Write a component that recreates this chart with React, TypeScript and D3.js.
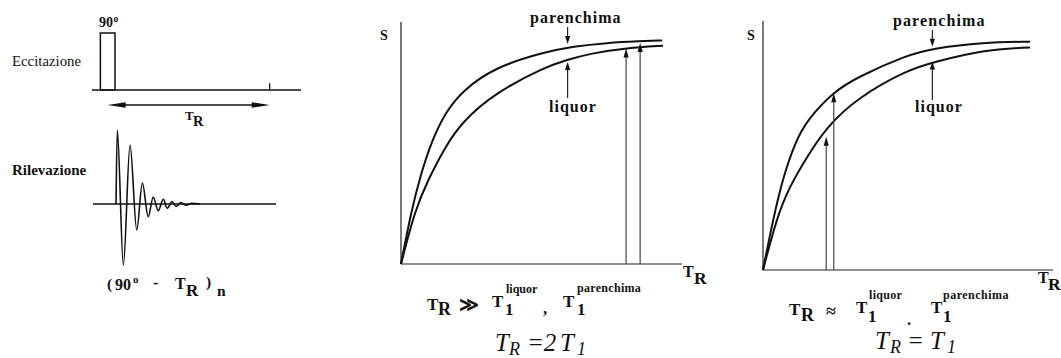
import React from "react";
import * as d3 from "d3";

const W = 1061;
const H = 358;
const SERIF = "'Liberation Serif', 'Times New Roman', 'DejaVu Serif', serif";

// ---- Pulse sequence (left) ----
const seqDomain = [0, 100];
const pulse90 = [4, 11]; // start, end of the 90° pulse
const trSpan = [7.5, 85]; // repetition time: pulse centre to next pulse
const nextPulse = 85;

// FID extrema read along the detection axis: time, amplitude
const fidTime = [11.5, 12.1, 15.0, 18.2, 21.4, 24.1, 26.9, 29.3, 31.7, 34.1, 36.0, 38.3, 40.2, 42.6, 45.0, 47.8, 51.7];
const fidAmp = [0, 74, -61, 59, -26, 21, -12.7, 7, -6.7, 4.7, -4.3, 2.5, -2.5, 1.5, -1.2, 0.6, 0];

// ---- Recovery curves, TR >> T1 (middle) ----
const midParTime = [0, 3.5, 7.0, 11.0, 15.66, 21.71, 33.45, 51.25, 61.21, 73.31, 85.05, 92.88];
const midParSignal = [0, 21.0, 37.0, 51.0, 62.4, 71.5, 81.4, 87.6, 89.9, 91.4, 92.1, 92.4];
const midLiqTime = [0, 4.98, 9.61, 15.66, 21.71, 33.45, 51.25, 59.07, 67.26, 80.43, 93.24];
const midLiqSignal = [0, 22.3, 34.7, 48.3, 58.7, 70.7, 81.4, 84.3, 87.0, 89.3, 90.2];
const midReadTime = [80.1, 85.1];
const midReadSignal = [89.0, 91.3];
const midPointerTime = 59.3;
const midParPointer = [97.9, 90.9];
const midLiqPointer = [68.6, 83.5];

// ---- Recovery curves, TR ≈ T1 (right) ----
const rightParTime = [0, 3.5, 7.0, 11.0, 15.17, 24.38, 32.41, 49.66, 58.72, 75.86, 92.07];
const rightParSignal = [0, 20.5, 37.5, 51.0, 60.2, 71.6, 77.4, 86.3, 89.0, 91.4, 91.7];
const rightLiqTime = [0, 4.83, 9.17, 15.17, 22.07, 32.41, 49.66, 58.72, 75.86, 92.07];
const rightLiqSignal = [0, 21.4, 33.5, 45.5, 57.6, 69.0, 80.3, 83.4, 88.4, 89.4];
const rightReadTime = [21.8, 24.4];
const rightReadSignal = [53.5, 71.0];
const rightPointerTime = 58.4;
const rightParPointer = [96.4, 89.7];
const rightLiqPointer = [68.3, 83.7];

const INK = "#111";

type Dir = "up" | "down" | "left" | "right";
function Head({ x, y, dir, len = 8, half = 2.6 }: { x: number; y: number; dir: Dir; len?: number; half?: number }) {
  let pts: [number, number][] = [];
  if (dir === "up") pts = [[x, y], [x - half, y + len], [x + half, y + len]];
  if (dir === "down") pts = [[x, y], [x - half, y - len], [x + half, y - len]];
  if (dir === "left") pts = [[x, y], [x + len, y - half], [x + len, y + half]];
  if (dir === "right") pts = [[x, y], [x - len, y - half], [x - len, y + half]];
  return <polygon points={pts.map((p) => p.join(",")).join(" ")} fill={INK} />;
}

function Txt({
  x, y, size, bold = true, italic = false, anchor = "start", spacing = 0, family = SERIF, children,
}: {
  x: number; y: number; size: number; bold?: boolean; italic?: boolean; anchor?: string; spacing?: number; family?: string; children: React.ReactNode;
}) {
  return (
    <text
      x={x}
      y={y}
      textAnchor={anchor as any}
      fill={INK}
      style={{
        fontFamily: family,
        fontSize: size,
        fontWeight: bold ? 700 : 400,
        fontStyle: italic ? "italic" : "normal",
        letterSpacing: spacing,
      }}
    >
      {children}
    </text>
  );
}

function RecoveryPanel({
  x0, x1, y0, y1, parT, parS, liqT, liqS, readT, readS, pointerT, parPtr, liqPtr,
}: {
  x0: number; x1: number; y0: number; y1: number;
  parT: number[]; parS: number[]; liqT: number[]; liqS: number[];
  readT: number[]; readS: number[]; pointerT: number; parPtr: number[]; liqPtr: number[];
}) {
  const x = d3.scaleLinear().domain([0, 100]).range([x0, x1]);
  const y = d3.scaleLinear().domain([0, 100]).range([y0, y1]);
  const line = d3
    .line<[number, number]>()
    .x((d) => x(d[0]))
    .y((d) => y(d[1]))
    .curve(d3.curveBasis);
  const par = parT.map((t, i) => [t, parS[i]] as [number, number]);
  const liq = liqT.map((t, i) => [t, liqS[i]] as [number, number]);
  return (
    <g>
      {/* axes */}
      <line x1={x(0)} x2={x(0)} y1={y(0)} y2={y(100)} stroke="#222" strokeWidth={1.2} />
      <line x1={x(0)} x2={x(100)} y1={y(0)} y2={y(0)} stroke="#222" strokeWidth={1.2} />
      {/* T1 recovery curves */}
      <path d={line(par) || ""} fill="none" stroke={INK} strokeWidth={2} />
      <path d={line(liq) || ""} fill="none" stroke={INK} strokeWidth={2} />
      {/* readout arrows from the time axis */}
      {readT.map((t, i) => (
        <g key={i}>
          <line x1={x(t)} x2={x(t)} y1={y(0)} y2={y(readS[i]) + 6} stroke="#444" strokeWidth={1.2} />
          <Head x={x(t)} y={y(readS[i])} dir="up" len={9} />
        </g>
      ))}
      {/* label pointers */}
      <line x1={x(pointerT)} x2={x(pointerT)} y1={y(parPtr[0])} y2={y(parPtr[1]) - 6} stroke={INK} strokeWidth={1.1} />
      <Head x={x(pointerT)} y={y(parPtr[1])} dir="down" />
      <line x1={x(pointerT)} x2={x(pointerT)} y1={y(liqPtr[0])} y2={y(liqPtr[1]) + 6} stroke={INK} strokeWidth={1.1} />
      <Head x={x(pointerT)} y={y(liqPtr[1])} dir="up" />
    </g>
  );
}

export default function App() {
  // left: pulse sequence scales
  const tx = d3.scaleLinear().domain(seqDomain).range([92, 301]);
  const pulseY = d3.scaleLinear().domain([0, 1]).range([90, 33]);
  const fidY = d3.scaleLinear().domain([-80, 80]).range([284, 124]);
  const fidLine = d3
    .line<[number, number]>()
    .x((d) => tx(d[0]))
    .y((d) => fidY(d[1]))
    .curve(d3.curveMonotoneX);
  const fid = fidTime.map((t, i) => [t, fidAmp[i]] as [number, number]);

  return (
    <svg
      width={W}
      height={H}
      viewBox={`0 0 ${W} ${H}`}
      style={{ position: "absolute", left: 0, top: 0, display: "block", background: "#fff" }}
    >
      <rect width={W} height={H} fill="#fff" />

      {/* ===== Pulse sequence ===== */}
      <Txt x={12} y={66} size={14.8} bold={false}>Eccitazione</Txt>
      <line x1={tx(0)} x2={tx(100)} y1={pulseY(0)} y2={pulseY(0)} stroke={INK} strokeWidth={1.5} />
      <rect
        x={tx(pulse90[0])}
        y={pulseY(1)}
        width={tx(pulse90[1]) - tx(pulse90[0])}
        height={pulseY(0) - pulseY(1)}
        fill="none"
        stroke={INK}
        strokeWidth={1.5}
      />
      <line x1={tx(nextPulse)} x2={tx(nextPulse)} y1={pulseY(0)} y2={pulseY(0.12)} stroke={INK} strokeWidth={1.3} />
      <Txt x={99} y={26.5} size={14}>90</Txt>
      <Txt x={113.5} y={21.5} size={9.5}>o</Txt>
      {/* TR double arrow */}
      <line x1={tx(trSpan[0]) + 6} x2={tx(trSpan[1]) - 6} y1={105} y2={105} stroke={INK} strokeWidth={1.3} />
      <Head x={tx(trSpan[0])} y={105} dir="left" len={18} half={2.8} />
      <Head x={tx(trSpan[1])} y={105} dir="right" len={18} half={2.8} />
      <Txt x={185} y={120} size={13}>T</Txt>
      <Txt x={193} y={126} size={14.5}>R</Txt>

      <Txt x={12} y={175} size={15}>Rilevazione</Txt>
      <line x1={93} x2={276} y1={fidY(0)} y2={fidY(0)} stroke={INK} strokeWidth={1.4} />
      <path d={fidLine(fid) || ""} fill="none" stroke={INK} strokeWidth={1.6} />

      <Txt x={107} y={289} size={15.5}>(</Txt>
      <Txt x={115} y={290} size={16}>90</Txt>
      <Txt x={133} y={283} size={11}>o</Txt>
      <Txt x={153} y={288} size={16}>-</Txt>
      <Txt x={175} y={289} size={16}>T</Txt>
      <Txt x={186} y={296} size={17}>R</Txt>
      <Txt x={206} y={287} size={15.5}>)</Txt>
      <Txt x={217} y={296} size={15.5}>n</Txt>

      {/* ===== TR >> T1 ===== */}
      <RecoveryPanel
        x0={401} x1={682} y0={264} y1={22}
        parT={midParTime} parS={midParSignal}
        liqT={midLiqTime} liqS={midLiqSignal}
        readT={midReadTime} readS={midReadSignal}
        pointerT={midPointerTime} parPtr={midParPointer} liqPtr={midLiqPointer}
      />
      <Txt x={380} y={40} size={14}>S</Txt>
      <Txt x={530} y={23} size={16} spacing={1}>parenchima</Txt>
      <Txt x={549} y={112} size={16} spacing={1}>liquor</Txt>
      <Txt x={683} y={277} size={16}>T</Txt>
      <Txt x={694} y={284} size={17.5}>R</Txt>

      <Txt x={427} y={310} size={17}>T</Txt>
      <Txt x={438} y={315} size={18}>R</Txt>
      <Txt x={459} y={311} size={19} family="'DejaVu Serif', serif">≫</Txt>
      <Txt x={492} y={307} size={17}>T</Txt>
      <Txt x={505} y={315} size={17}>1</Txt>
      <Txt x={506} y={293} size={12}>liquor</Txt>
      <Txt x={543} y={314} size={17}>,</Txt>
      <Txt x={563} y={307} size={17}>T</Txt>
      <Txt x={577} y={315} size={17}>1</Txt>
      <Txt x={577} y={292} size={12} spacing={0.3}>parenchima</Txt>

      <Txt x={495} y={351} size={25} bold={false} italic>T</Txt>
      <Txt x={509} y={355} size={18} bold={false} italic>R</Txt>
      <Txt x={527} y={351} size={25} bold={false} italic>=2</Txt>
      <Txt x={560} y={351} size={25} bold={false} italic>T</Txt>
      <Txt x={577} y={355} size={18} bold={false} italic>1</Txt>

      {/* ===== TR ≈ T1 ===== */}
      <RecoveryPanel
        x0={763} x1={1053} y0={270} y1={21}
        parT={rightParTime} parS={rightParSignal}
        liqT={rightLiqTime} liqS={rightLiqSignal}
        readT={rightReadTime} readS={rightReadSignal}
        pointerT={rightPointerTime} parPtr={rightParPointer} liqPtr={rightLiqPointer}
      />
      <Txt x={747} y={40} size={14}>S</Txt>
      <Txt x={893} y={25.5} size={16} spacing={1.1}>parenchima</Txt>
      <Txt x={915} y={112} size={16} spacing={1}>liquor</Txt>
      <Txt x={1038} y={283} size={16}>T</Txt>
      <Txt x={1048} y={290} size={17.5}>R</Txt>

      <Txt x={789} y={315} size={17}>T</Txt>
      <Txt x={801} y={321} size={18}>R</Txt>
      <Txt x={826} y={317} size={18}>≈</Txt>
      <Txt x={856} y={313} size={17}>T</Txt>
      <Txt x={868} y={322} size={17}>1</Txt>
      <Txt x={869} y={299} size={12} spacing={0.3}>liquor</Txt>
      <Txt x={907} y={325} size={17}>.</Txt>
      <Txt x={931} y={313} size={17}>T</Txt>
      <Txt x={943} y={322} size={17}>1</Txt>
      <Txt x={943} y={299} size={12} spacing={0.5}>parenchima</Txt>

      <Txt x={875} y={349} size={25} bold={false} italic>T</Txt>
      <Txt x={890} y={353} size={18} bold={false} italic>R</Txt>
      <Txt x={907} y={349} size={25} bold={false} italic>=</Txt>
      <Txt x={930} y={349} size={25} bold={false} italic>T</Txt>
      <Txt x={947} y={353} size={18} bold={false} italic>1</Txt>
    </svg>
  );
}
